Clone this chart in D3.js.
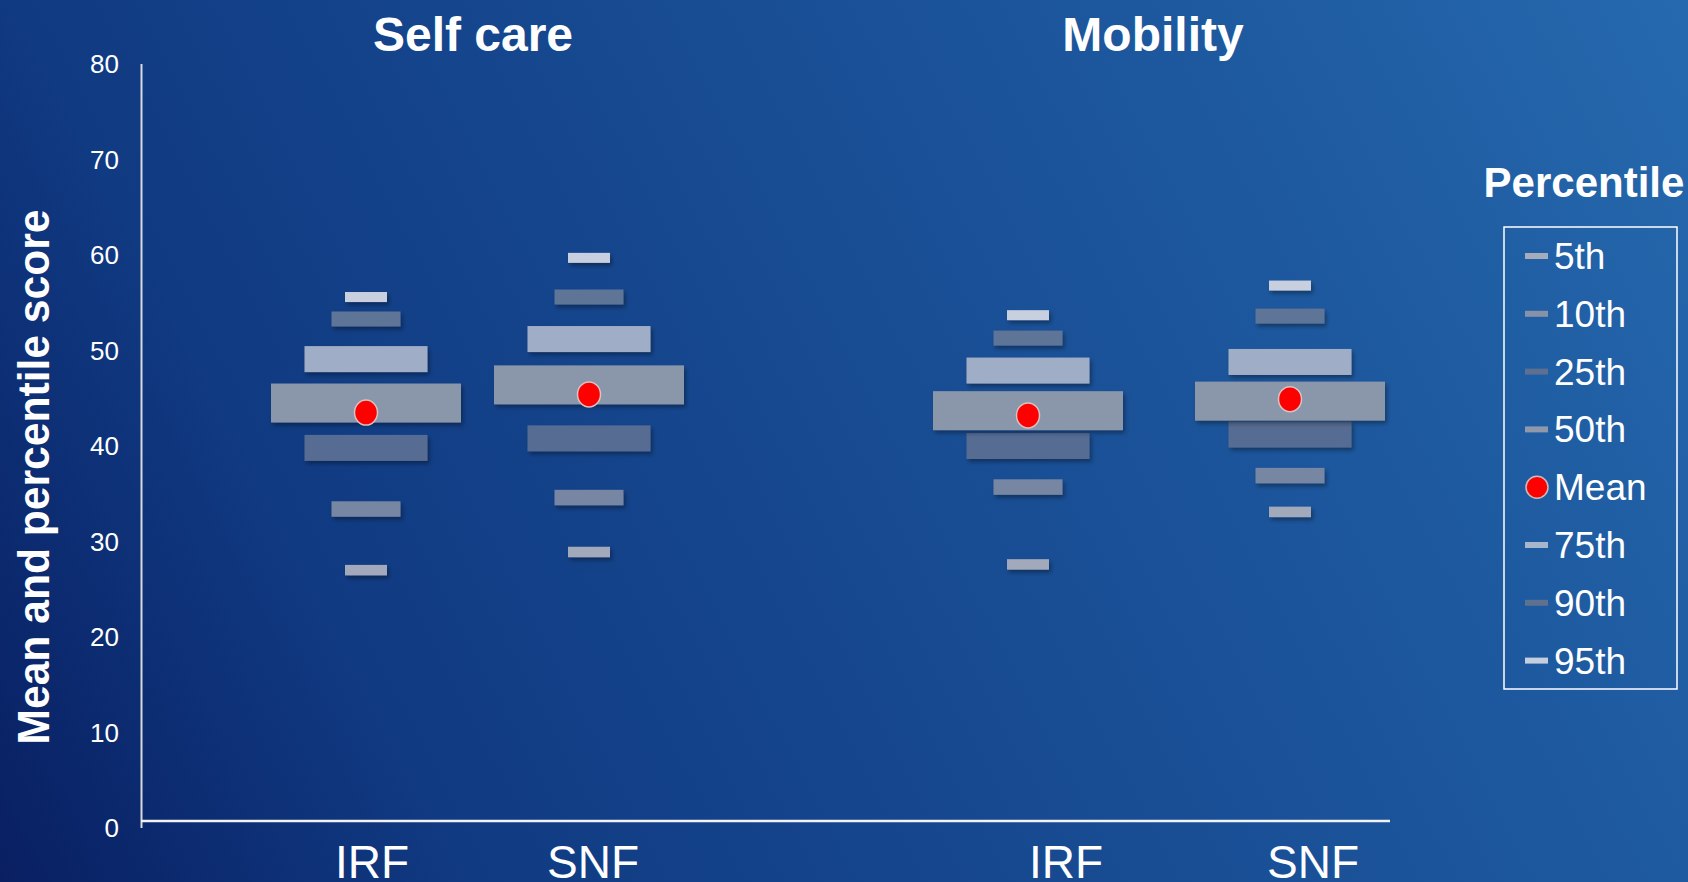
<!DOCTYPE html>
<html>
<head>
<meta charset="utf-8">
<script src="https://d3js.org/d3.v7.min.js"></script>
<style>
  html, body { margin: 0; padding: 0; overflow: hidden; background: #0f3a80; }
  text { font-family: "Liberation Sans", Arial, sans-serif; fill: #fff; }
</style>
</head>
<body>
<div id="chart"></div>
<script>

var width = 1688, height = 882;

// values
var panels = ["Self care", "Mobility"];
var settings = ["IRF", "SNF"];
var percentiles = ["5th", "10th", "25th", "50th", "75th", "90th", "95th"];
var legendItems = ["5th", "10th", "25th", "50th", "Mean", "75th", "90th", "95th"];
var selfCareIRF = [27.0, 33.4, 39.8, 44.5, 49.1, 53.3, 55.6];
var selfCareSNF = [28.9, 34.6, 40.8, 46.4, 51.2, 55.6, 59.7];
var mobilityIRF = [27.6, 35.7, 40.0, 43.7, 47.9, 51.3, 53.7];
var mobilitySNF = [33.1, 36.9, 41.2, 44.7, 48.8, 53.6, 56.8];
var selfCareMean = [43.5, 45.4];
var mobilityMean = [43.2, 44.9];
var yTicks = [0, 10, 20, 30, 40, 50, 60, 70, 80];

// look of each percentile bar
var barColor = {"5th": "#a2a9bb", "10th": "#7786a3", "25th": "#566c92", "50th": "#8a97aa",
                "75th": "#a0adc6", "90th": "#5f7497", "95th": "#c8d0e0"};
var legendColor = {"5th": "#a5adbd", "10th": "#8791a8", "25th": "#5e7092", "50th": "#8f99ab",
                   "75th": "#a8b6cc", "90th": "#5f7190", "95th": "#c5cede"};
var barW = {"5th": 42, "10th": 69, "25th": 123, "50th": 190, "75th": 123, "90th": 69, "95th": 42};
var barH = {"5th": 10.5, "10th": 15.5, "25th": 26, "50th": 39, "75th": 26, "90th": 15, "95th": 10};

var panelData = [
  {name: panels[0], values: [selfCareIRF, selfCareSNF], means: selfCareMean,
   barRange: [254.5, 700.5], labelRange: [261.5, 703.5], titleX: 473},
  {name: panels[1], values: [mobilityIRF, mobilitySNF], means: mobilityMean,
   barRange: [897, 1421], labelRange: [942.5, 1436.5], titleX: 1153}
];

var svg = d3.select("#chart").append("svg")
    .attr("width", width)
    .attr("height", height);

var defs = svg.append("defs");
var grad = defs.append("linearGradient")
    .attr("id", "bg")
    .attr("gradientUnits", "userSpaceOnUse")
    .attr("x1", 0).attr("y1", height)
    .attr("x2", width).attr("y2", 0);
grad.append("stop").attr("offset", 0).attr("stop-color", "#091f62");
grad.append("stop").attr("offset", 0.22).attr("stop-color", "#103a82");
grad.append("stop").attr("offset", 0.78).attr("stop-color", "#1e5aa0");
grad.append("stop").attr("offset", 1).attr("stop-color", "#2669ae");

defs.append("filter").attr("id", "shadow")
    .attr("x", "-20%").attr("y", "-40%").attr("width", "140%").attr("height", "200%")
  .append("feDropShadow")
    .attr("dx", 2).attr("dy", 3).attr("stdDeviation", 2)
    .attr("flood-color", "#000").attr("flood-opacity", 0.35);

svg.append("rect")
    .attr("width", width).attr("height", height)
    .attr("fill", "url(#bg)");

var y = d3.scaleLinear().domain([0, 80]).range([828, 64]);

// y axis
svg.append("line")
    .attr("x1", 141.5).attr("x2", 141.5)
    .attr("y1", y(80)).attr("y2", y(0))
    .attr("stroke", "#d9d9d9").attr("stroke-width", 2);

svg.selectAll(".ytick")
    .data(yTicks)
    .enter()
    .append("text")
    .attr("class", "ytick")
    .attr("x", 119)
    .attr("y", function(d) { return y(d); })
    .attr("dy", "0.35em")
    .attr("text-anchor", "end")
    .style("font-size", "26px")
    .text(function(d) { return d; });

svg.append("text")
    .attr("transform", "translate(49,477) rotate(-90)")
    .attr("text-anchor", "middle")
    .attr("textLength", 535)
    .attr("lengthAdjust", "spacingAndGlyphs")
    .style("font-size", "45px")
    .style("font-weight", "bold")
    .text("Mean and percentile score");

// x axis
svg.append("line")
    .attr("x1", 141).attr("x2", 1390)
    .attr("y1", 821).attr("y2", 821)
    .attr("stroke", "#f2f2f2").attr("stroke-width", 2.5);

panelData.forEach(function(p) {
  var x = d3.scaleBand().domain(settings).range(p.barRange);
  var xl = d3.scaleBand().domain(settings).range(p.labelRange);

  svg.append("text")
      .attr("x", p.titleX).attr("y", 51)
      .attr("text-anchor", "middle")
      .style("font-size", "48px")
      .style("font-weight", "bold")
      .text(p.name);

  settings.forEach(function(s, si) {
    var cx = x(s) + x.bandwidth() / 2;
    var rows = percentiles.map(function(pc, i) {
      return {pct: pc, value: p.values[si][i]};
    });

    svg.selectAll(".bar-" + p.name.replace(" ", "") + s)
        .data(rows)
        .enter()
        .append("rect")
        .attr("x", function(d) { return cx - barW[d.pct] / 2; })
        .attr("y", function(d) { return y(d.value) - barH[d.pct] / 2; })
        .attr("width", function(d) { return barW[d.pct]; })
        .attr("height", function(d) { return barH[d.pct]; })
        .attr("fill", function(d) { return barColor[d.pct]; })
        .attr("filter", "url(#shadow)");

    svg.append("ellipse")
        .attr("cx", cx)
        .attr("cy", y(p.means[si]))
        .attr("rx", 11.5).attr("ry", 12.5)
        .attr("fill", "#ff0000")
        .attr("stroke", "#d6c4c4").attr("stroke-width", 1.5);

    // category labels run off the bottom edge, as on the slide
    svg.append("text")
        .attr("x", xl(s) + xl.bandwidth() / 2)
        .attr("y", 878)
        .attr("text-anchor", "middle")
        .style("font-size", "46px")
        .text(s);
  });
});

// legend
svg.append("text")
    .attr("x", 1584).attr("y", 197)
    .attr("text-anchor", "middle")
    .style("font-size", "42px")
    .style("font-weight", "bold")
    .text("Percentile");

svg.append("rect")
    .attr("x", 1504).attr("y", 227)
    .attr("width", 173).attr("height", 462)
    .attr("fill", "none")
    .attr("stroke", "#ffffff").attr("stroke-width", 1.5);

var legend = svg.selectAll(".legend")
    .data(legendItems)
    .enter()
    .append("g")
    .attr("class", "legend")
    .attr("transform", function(d, i) { return "translate(0," + (256 + i * 57.8) + ")"; });

legend.each(function(d) {
  var g = d3.select(this);
  if (d == "Mean") {
    g.append("circle")
        .attr("cx", 1537).attr("cy", 0).attr("r", 11)
        .attr("fill", "#ff0000")
        .attr("stroke", "#c8bcbc").attr("stroke-width", 1.5);
  } else {
    g.append("rect")
        .attr("x", 1525).attr("y", -3)
        .attr("width", 23).attr("height", 6)
        .attr("fill", legendColor[d]);
  }
  g.append("text")
      .attr("x", 1554).attr("y", 0)
      .attr("dy", "0.35em")
      .style("font-size", "37px")
      .text(d);
});

</script>
</body>
</html>
